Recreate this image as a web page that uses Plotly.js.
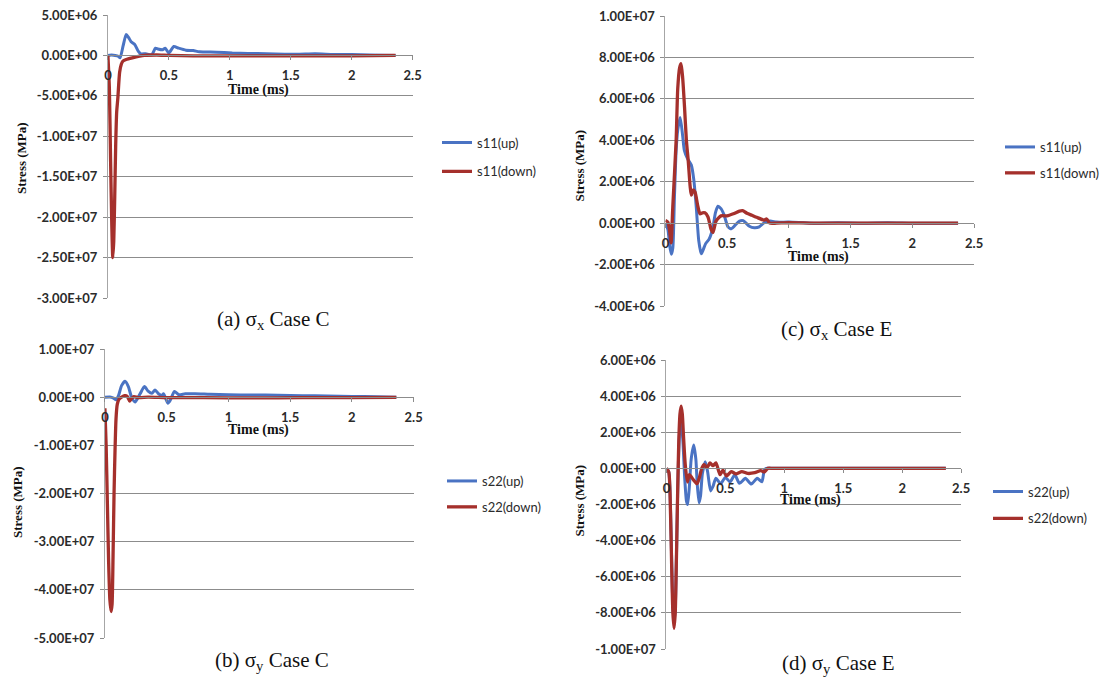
<!DOCTYPE html>
<html><head><meta charset="utf-8">
<script src="https://cdn.plot.ly/plotly-3.0.1.min.js"></script>
<style>html,body{margin:0;padding:0;background:#fff}#chart{width:1105px;height:684px}</style>
</head><body><div id="chart"></div>
<script>
// ---------- data (time in ms, stress in Pa as labelled "MPa") ----------
// (a) sigma_x Case C
const ta_up = [0,0.03,0.06,0.085,0.1,0.125,0.15,0.17,0.19,0.22,0.25,0.27,0.31,0.36,0.39,0.41,0.45,0.47,0.5,0.54,0.58,0.64,0.7,0.75,0.89,1.02,1.15,1.3,1.45,1.57,1.7,1.85,2.0,2.15,2.36];
const sa_up = [0,0.05e6,0,-0.1e6,-0.3e6,1.2e6,2.6e6,2.2e6,1.7e6,1.35e6,0.5e6,0.2e6,0.2e6,0.1e6,0.9e6,0.8e6,0.7e6,0.9e6,0.3e6,1.1e6,0.9e6,0.65e6,0.6e6,0.45e6,0.4e6,0.3e6,0.25e6,0.2e6,0.15e6,0.15e6,0.2e6,0.12e6,0.1e6,0.05e6,0];
const ta_dn = [0,0.012,0.022,0.032,0.04,0.048,0.056,0.064,0.072,0.082,0.096,0.11,0.123,0.15,0.2,0.26,0.3,0.4,0.5,0.7,1.0,1.3,1.6,2.0,2.36];
const sa_dn = [0,-4e6,-13e6,-21e6,-25e6,-23e6,-17.5e6,-11e6,-7e6,-5.2e6,-2.1e6,-1.1e6,-0.7e6,-0.5e6,-0.3e6,-0.1e6,0,0.05e6,0,-0.05e6,-0.05e6,-0.05e6,-0.05e6,-0.05e6,0];
// (b) sigma_y Case C
const tb_up = [0,0.04,0.07,0.09,0.11,0.135,0.163,0.19,0.217,0.244,0.285,0.32,0.35,0.38,0.406,0.434,0.46,0.475,0.51,0.53,0.563,0.6,0.65,0.73,0.85,1.0,1.2,1.4,1.6,1.8,2.0,2.2,2.36];
const sb_up = [0,0.05e6,-0.2e6,-0.55e6,0.3e6,2.4e6,3.3e6,2.2e6,-0.1e6,-1.0e6,0.7e6,2.2e6,1.25e6,0.8e6,1.5e6,0.7e6,0.35e6,0.7e6,-1.25e6,-0.6e6,1.2e6,0.5e6,0.7e6,0.7e6,0.6e6,0.5e6,0.45e6,0.4e6,0.3e6,0.25e6,0.15e6,0.1e6,0];
const tb_dn = [0,0.01,0.02,0.03,0.04,0.05,0.058,0.066,0.074,0.082,0.09,0.1,0.115,0.135,0.16,0.18,0.2,0.215,0.235,0.27,0.35,0.5,0.8,1.2,1.6,2.0,2.36];
const sb_dn = [-2.3e6,-10e6,-22e6,-34e6,-42e6,-44.5e6,-43e6,-33e6,-20e6,-11e6,-4.5e6,-1.5e6,-0.4e6,0,0.3e6,0.2e6,-0.8e6,-0.3e6,0.1e6,-0.1e6,0,-0.1e6,-0.1e6,-0.15e6,-0.1e6,-0.1e6,-0.05e6];
// (c) sigma_x Case E
const tc_up = [0,0.02,0.035,0.048,0.06,0.073,0.087,0.1,0.12,0.14,0.154,0.18,0.21,0.23,0.25,0.27,0.29,0.305,0.325,0.355,0.385,0.405,0.425,0.45,0.475,0.507,0.534,0.565,0.6,0.63,0.68,0.72,0.76,0.8,0.85,0.9,1.0,1.2,1.4,1.6,1.8,2.0,2.2,2.37];
const sc_up = [0,-0.3e6,-1.1e6,-1.5e6,-1.2e6,1.2e6,3.5e6,4.5e6,5.1e6,4.2e6,3.5e6,3.1e6,2.8e6,2.1e6,0.77e6,-0.84e6,-1.48e6,-1.3e6,-1.0e6,-0.76e6,-0.2e6,0.5e6,0.82e6,0.7e6,0.4e6,-0.18e6,-0.27e6,-0.1e6,0.1e6,0.12e6,-0.15e6,-0.22e6,-0.18e6,0.02e6,0.1e6,0.05e6,0.05e6,0,0.02e6,0,0.02e6,0,0,0];
const tc_dn = [0,0.02,0.035,0.046,0.06,0.087,0.1,0.115,0.127,0.14,0.155,0.17,0.185,0.2,0.21,0.225,0.24,0.26,0.28,0.3,0.32,0.345,0.37,0.385,0.41,0.45,0.5,0.55,0.6,0.625,0.66,0.7,0.74,0.8,0.82,0.845,0.9,1.0,1.2,1.5,1.8,2.1,2.37];
const sc_dn = [0.13e6,0.05e6,-0.4e6,-0.95e6,0.8e6,4.0e6,6.5e6,7.5e6,7.7e6,7.0e6,5.6e6,4.0e6,3.0e6,1.8e6,1.35e6,1.6e6,1.5e6,0.9e6,0.45e6,0.5e6,0.5e6,0.3e6,-0.3e6,-0.45e6,0.1e6,0.35e6,0.35e6,0.45e6,0.58e6,0.6e6,0.48e6,0.38e6,0.28e6,0.15e6,0.2e6,0,0,0.02e6,0,0,0,0,0];
// (d) sigma_y Case E
const td_up = [0,0.02,0.035,0.045,0.055,0.065,0.075,0.085,0.095,0.105,0.115,0.125,0.14,0.155,0.17,0.18,0.195,0.21,0.232,0.25,0.262,0.277,0.29,0.305,0.33,0.35,0.375,0.395,0.42,0.46,0.5,0.54,0.58,0.62,0.67,0.72,0.77,0.81,0.83,0.845,0.9,1.0,1.5,2.0,2.37];
const sd_up = [0,-0.2e6,-2.3e6,-5.2e6,-7.6e6,-8.5e6,-7.8e6,-5.0e6,-1.5e6,1.0e6,2.3e6,2.6e6,1.5e6,-0.5e6,-1.8e6,-2.0e6,-1.0e6,0.5e6,1.3e6,0.5e6,-0.9e6,-1.9e6,-1.5e6,-0.3e6,0.37e6,-0.2e6,-1.25e6,-1.0e6,-0.55e6,-0.85e6,-0.5e6,-0.75e6,-0.35e6,-0.83e6,-0.55e6,-0.87e6,-0.55e6,-0.74e6,-0.1e6,0,0,0,0,0,0];
const td_dn = [0,0.02,0.035,0.045,0.055,0.065,0.075,0.085,0.095,0.105,0.115,0.125,0.135,0.145,0.16,0.178,0.195,0.225,0.26,0.28,0.3,0.32,0.345,0.37,0.395,0.42,0.455,0.48,0.51,0.55,0.59,0.64,0.69,0.75,0.8,0.83,0.86,0.9,1.0,1.3,1.6,1.9,2.2,2.37];
const sd_dn = [0,-0.2e6,-2.5e6,-5.5e6,-8.0e6,-8.85e6,-8.0e6,-5.0e6,-1.5e6,1.5e6,3.0e6,3.45e6,3.0e6,1.8e6,0.2e6,-0.75e6,-0.35e6,-0.6e6,-0.85e6,-0.5e6,0,0.2e6,0.05e6,0.3e6,0.15e6,0.3e6,-0.35e6,-0.1e6,-0.42e6,-0.18e6,-0.3e6,-0.18e6,-0.28e6,-0.24e6,-0.13e6,-0.2e6,0,0,0,0,0,0,0,0];

// tick labels
const x_vals = [0,0.5,1,1.5,2,2.5];
const x_text = ['0','0.5','1','1.5','2','2.5'];
const ya_vals = [5e6,0,-5e6,-1e7,-1.5e7,-2e7,-2.5e7,-3e7];
const ya_text = ['5.00E+06','0.00E+00','-5.00E+06','-1.00E+07','-1.50E+07','-2.00E+07','-2.50E+07','-3.00E+07'];
const yb_vals = [1e7,0,-1e7,-2e7,-3e7,-4e7,-5e7];
const yb_text = ['1.00E+07','0.00E+00','-1.00E+07','-2.00E+07','-3.00E+07','-4.00E+07','-5.00E+07'];
const yc_vals = [1e7,8e6,6e6,4e6,2e6,0,-2e6,-4e6];
const yc_text = ['1.00E+07','8.00E+06','6.00E+06','4.00E+06','2.00E+06','0.00E+00','-2.00E+06','-4.00E+06'];
const yd_vals = [6e6,4e6,2e6,0,-2e6,-4e6,-6e6,-8e6,-1e7];
const yd_text = ['6.00E+06','4.00E+06','2.00E+06','0.00E+00','-2.00E+06','-4.00E+06','-6.00E+06','-8.00E+06','-1.00E+07'];

const names = [['s11(up)','s11(down)'],['s22(up)','s22(down)'],['s11(up)','s11(down)'],['s22(up)','s22(down)']];
const captions = ['(a) σ<sub>x</sub> Case C','(b) σ<sub>y</sub> Case C','(c) σ<sub>x</sub> Case E','(d) σ<sub>y</sub> Case E'];

// ---------- layout ----------
const W = 1105, H = 684;
const BLUE = '#4a73c3', RED = '#a5302c';
const bold = s => '<b>' + s + '</b>';
const tickFont = {family:'Lato, Open Sans, sans-serif', size:13, color:'#2b2b2b'};
const serifB = {family:'Liberation Serif, Times New Roman, serif', size:13, color:'#111', weight:700};

const panels = [
  {x0:108, x1:413, yT:15,  yB:298, range:[-3e7,5e6], vals:ya_vals, text:ya_text, t1:ta_up, s1:sa_up, t2:ta_dn, s2:sa_dn,
   leg:{x:442, y:157}, ytl:{x:21, y:158}, xtl:{x:259, y:90}, cap:{x:274, y:320}, gap:9},
  {x0:105, x1:414, yT:349, yB:638, range:[-5e7,1e7], vals:yb_vals, text:yb_text, t1:tb_up, s1:sb_up, t2:tb_dn, s2:sb_dn,
   leg:{x:447, y:494}, ytl:{x:17, y:502}, xtl:{x:259, y:430}, cap:{x:272, y:661}, gap:6},
  {x0:666, x1:975, yT:16,  yB:306, range:[-4e6,1e7], vals:yc_vals, text:yc_text, t1:tc_up, s1:sc_up, t2:tc_dn, s2:sc_dn,
   leg:{x:1006, y:160}, ytl:{x:581, y:165}, xtl:{x:819, y:257}, cap:{x:837, y:330}, gap:6},
  {x0:667, x1:962, yT:360, yB:649, range:[-1e7,6e6], vals:yd_vals, text:yd_text, t1:td_up, s1:sd_up, t2:td_dn, s2:sd_dn,
   leg:{x:993, y:505}, ytl:{x:580, y:500}, xtl:{x:811, y:500}, cap:{x:839, y:664}, gap:7}
];

const data = [];
const layout = {
  width:W, height:H, margin:{l:0,r:0,t:0,b:0}, paper_bgcolor:'#fff', plot_bgcolor:'#fff',
  showlegend:true, annotations:[], font:{family:'Lato, sans-serif'}
};

panels.forEach((p,i) => {
  const n = i===0 ? '' : String(i+1);
  const yd = [1 - p.yB/H, 1 - p.yT/H];
  const pos = yd[0] + (0 - p.range[0])/(p.range[1]-p.range[0])*(yd[1]-yd[0]);
  layout['xaxis'+n] = {
    domain:[p.x0/W, p.x1/W], range:[0,2.5], anchor:'free', position:pos,
    tickmode:'array', tickvals:x_vals, ticktext:x_text.map(bold), showgrid:false, zeroline:false, showline:true,
    linecolor:'#8c8c8c', linewidth:1, ticks:'outside', ticklen:4, tickcolor:'#8c8c8c',
    tickfont:tickFont, ticklabelstandoff:4, fixedrange:true
  };
  layout['yaxis'+n] = {
    domain:yd, range:p.range, anchor:'x'+n, tickmode:'array', tickvals:p.vals, ticktext:p.text.map(bold),
    showgrid:true, gridcolor:'#8c8c8c', gridwidth:1, zeroline:false, showline:true,
    linecolor:'#a6a6a6', linewidth:1, ticks:'outside', ticklen:4, tickcolor:'#8c8c8c',
    tickfont:tickFont, ticklabelstandoff:3, fixedrange:true
  };
  const lg = i===0 ? 'legend' : 'legend'+(i+1);
  layout[lg] = {
    x:(p.leg.x-5)/W, y:1 - p.leg.y/H, xanchor:'left', yanchor:'middle',
    bgcolor:'rgba(0,0,0,0)', borderwidth:0, tracegroupgap:p.gap, itemwidth:30,
    font:{family:'Lato, Open Sans, sans-serif', size:13, color:'#2b2b2b'}
  };
  data.push({x:p.t1, y:p.s1, type:'scatter', mode:'lines', name:names[i][0], xaxis:'x'+n, yaxis:'y'+n,
    legend:lg, legendgroup:'g'+i+'a', line:{color:BLUE, width:3, shape:'spline', smoothing:0.6}, hoverinfo:'skip'});
  data.push({x:p.t2, y:p.s2, type:'scatter', mode:'lines', name:names[i][1], xaxis:'x'+n, yaxis:'y'+n,
    legend:lg, legendgroup:'g'+i+'b', line:{color:RED, width:3.3, shape:'spline', smoothing:0.6}, hoverinfo:'skip'});
  layout.annotations.push(
    {xref:'paper', yref:'paper', x:p.ytl.x/W, y:1-p.ytl.y/H, text:'Stress (MPa)', textangle:-90,
     showarrow:false, font:serifB, xanchor:'center', yanchor:'middle'},
    {xref:'paper', yref:'paper', x:p.xtl.x/W, y:1-p.xtl.y/H, text:'Time (ms)',
     showarrow:false, font:Object.assign({}, serifB, {size:14}), xanchor:'center', yanchor:'middle'},
    {xref:'paper', yref:'paper', x:p.cap.x/W, y:1-p.cap.y/H, text:captions[i],
     showarrow:false, font:{family:'Liberation Serif, Times New Roman, serif', size:21, color:'#111'}, xanchor:'center', yanchor:'middle'}
  );
});

Plotly.newPlot('chart', data, layout, {staticPlot:true, displayModeBar:false});
</script></body></html>
